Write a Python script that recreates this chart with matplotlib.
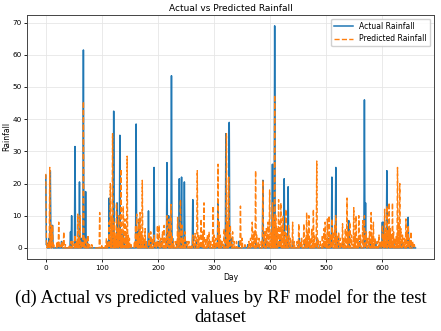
import numpy as np
import matplotlib
matplotlib.use("Agg")
import matplotlib.pyplot as plt

# days with rain in the test set, everything else is 0
actual_days = [0, 1, 2, 6, 8, 9, 11, 12, 22, 28, 44, 46, 52, 60, 63, 67, 71, 74,
               110, 113, 116, 119, 121, 124, 127, 130, 132, 135, 138, 140, 146,
               161, 163, 166, 170, 175, 183, 187, 193, 200, 206, 214, 216, 219,
               224, 226, 234, 238, 242, 247, 250, 262, 268, 276, 290, 300, 307,
               313, 321, 327, 331, 344, 360, 375, 387, 393, 404, 408, 411, 418,
               425, 428, 432, 440, 452, 462, 470, 484, 496, 505, 510, 517, 521,
               530, 540, 551, 560, 568, 570, 578, 588, 600, 602, 608, 612, 620,
               635, 646, 650, 655]
actual_vals = [22.5, 1, 1.5, 3, 24, 5, 6, 7, 1.5, 2, 5, 10, 31.5, 20.5, 3, 61.5, 17.5, 2,
               2, 15.5, 3, 8, 42.5, 3, 14, 3, 35, 5, 4, 3, 2,
               38.5, 5, 8, 4, 2, 11.5, 3, 25, 2, 2, 2, 26.5, 10,
               53.5, 3, 2, 21.5, 22, 20.5, 2, 15, 2, 1.5, 2, 2, 15,
               2, 35.5, 39, 3, 2, 1, 2, 21, 3, 26, 69, 5, 3,
               21.5, 2, 19, 2, 3, 2, 2, 3, 2, 3, 22, 25, 3,
               2, 8.5, 2, 2, 46, 14, 2, 2, 8, 8, 24, 3, 2,
               2, 9.5, 2, 1]

pred_days = [0, 1, 3, 5, 7, 9, 10, 12, 14, 20, 23, 25, 29, 32, 35, 42, 45, 48, 52, 55,
             57, 59, 61, 64, 67, 69, 72, 75, 78, 82, 96, 100, 106, 108, 111, 113, 115,
             117, 119, 120, 122, 124, 126, 128, 130, 132, 134, 136, 138, 139, 141, 143,
             145, 147, 149, 152, 158, 160, 162, 164, 166, 168, 170, 172, 174, 177, 179,
             184, 187, 190, 193, 196, 199, 202, 205, 208, 211, 213, 216, 218, 220, 223,
             225, 228, 232, 235, 237, 240, 243, 245, 248, 252, 255, 259, 262, 266, 270,
             273, 277, 280, 282, 285, 288, 291, 294, 298, 300, 303, 307, 309, 311, 314,
             318, 322, 324, 326, 329, 333, 336, 340, 347, 350, 355, 362, 365, 368, 371,
             374, 376, 380, 384, 387, 390, 393, 396, 399, 402, 404, 406, 408, 410, 412,
             415, 417, 419, 421, 423, 425, 428, 430, 433, 436, 440, 443, 448, 451, 453,
             456, 460, 463, 465, 467, 469, 471, 474, 477, 479, 483, 485, 489, 493, 496,
             498, 500, 502, 505, 507, 510, 512, 515, 517, 519, 522, 525, 529, 531, 534,
             537, 539, 542, 545, 549, 551, 553, 556, 558, 561, 565, 568, 571, 574, 577,
             580, 582, 584, 587, 591, 594, 597, 600, 602, 604, 606, 608, 610, 612, 614,
             616, 618, 620, 623, 625, 627, 629, 631, 633, 636, 639, 642, 644, 646, 648,
             651, 654, 657]
pred_vals = [23, 2, 1, 2, 25, 4, 7, 7, 1, 2, 8, 1, 2, 5, 1, 1, 2, 2, 4, 2,
             10.5, 3, 10, 2, 45.5, 3, 3, 4, 1, 1, 11, 1, 1, 3, 2, 8, 20,
             10, 35.5, 5, 8, 4, 14, 6, 10, 6, 24.5, 4, 13, 3, 9, 5,
             28.5, 4, 3, 1, 2, 7, 10.5, 4, 9, 11, 5, 21, 3, 6, 2,
             5, 5, 3, 4, 2, 7, 7, 3, 5, 7, 3, 10, 4, 9, 13.5,
             4, 2, 2, 9.5, 5, 15, 7, 3, 5, 2, 2, 1, 4, 4.5, 24,
             4, 9, 5, 14, 3, 4, 5, 2, 13, 4, 3, 26, 8, 4, 2,
             6, 35.5, 8, 22, 7, 5, 2, 2, 13, 3, 1, 2, 3, 8, 5,
             24, 4, 3, 2, 21, 5, 6, 8, 18, 5, 14, 9, 47.5, 10, 6,
             15, 8, 14, 6, 10, 5, 12, 4, 7, 3, 8, 2, 2, 7.5, 2,
             3, 7.5, 3, 11, 5, 10, 3, 6, 12, 4, 27, 3, 2, 4, 6,
             8, 3, 9, 10, 4, 9, 5, 7, 10, 4, 5, 3, 7.5, 3, 6,
             15.5, 5, 8, 4, 12.5, 4, 10, 3, 10, 4, 8.5, 10, 5, 3, 5,
             11, 4, 8, 3, 2, 4, 2, 7, 4, 12, 6, 13, 5, 14, 6,
             4, 14, 5, 3, 4, 25, 8, 20, 6, 4, 3, 9, 5, 7, 3,
             5, 2, 1]

n_days = 660


def build_series(days, vals, n):
    """Pone los valores en su dia, el resto queda en cero"""
    s = np.zeros(n)
    s[days] = vals
    return s


def main():
    actual = build_series(actual_days, actual_vals, n_days)
    pred = build_series(pred_days, pred_vals, n_days)
    x = np.arange(n_days)

    fig = plt.figure(figsize=(4.41, 3.31), dpi=100)
    ax = fig.add_axes([0.062, 0.2175, 0.922, 0.738])
    ax.plot(x, actual, color="#1f77b4", lw=1.1, label="Actual Rainfall")
    ax.plot(x, pred, color="#ff7f0e", lw=1.0, ls="--", label="Predicted Rainfall")

    ax.set_title("Actual vs Predicted Rainfall", fontsize=6.5, pad=3)
    ax.set_xlabel("Day", fontsize=5.5, labelpad=2)
    ax.set_ylabel("Rainfall", fontsize=5.5, labelpad=1)
    ax.tick_params(labelsize=5.2, length=2.5, width=0.6, pad=1.5)
    ax.set_yticks(range(0, 71, 10))
    ax.grid(True, color="#e6e6e6", lw=0.6)
    for sp in ax.spines.values():
        sp.set_linewidth(0.7)
        sp.set_color("#444444")
    ax.legend(loc="upper right", fontsize=5.5, handlelength=2.5, framealpha=0.9)

    fig.text(0.5, 0.1, "(d) Actual vs predicted values by RF model for the test",
             ha="center", va="center", fontsize=13.5, family="Liberation Serif")
    fig.text(0.5, 0.04, "dataset", ha="center", va="center", fontsize=13.5,
             family="Liberation Serif")

    fig.savefig("out.png", dpi=100)


if __name__ == "__main__":
    main()
